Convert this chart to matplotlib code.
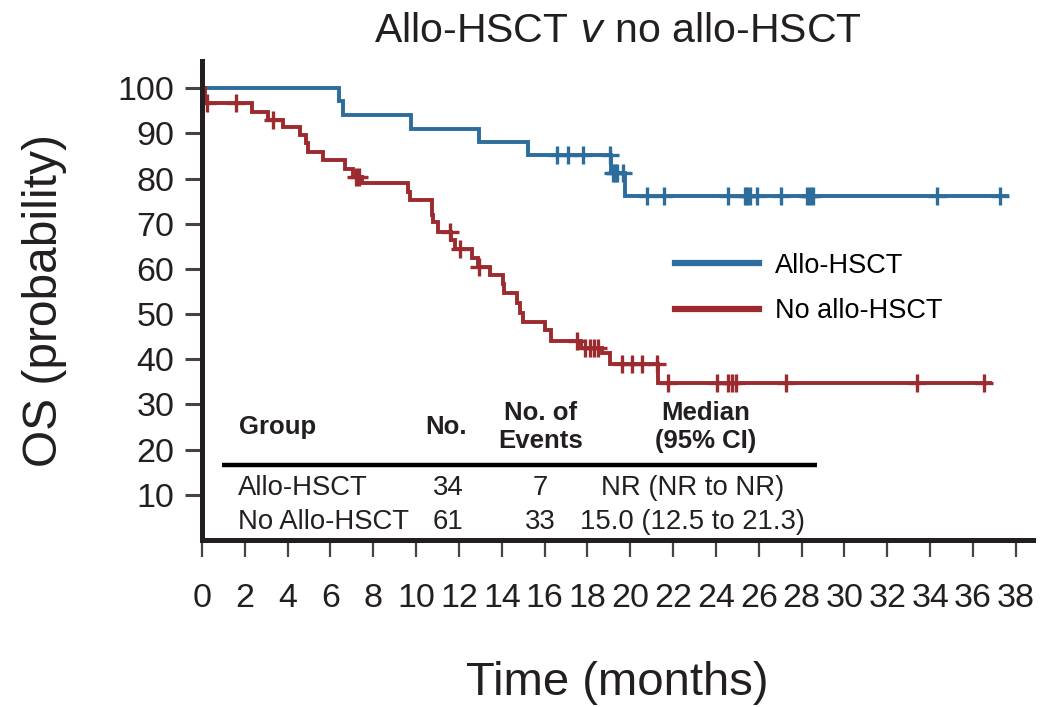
import numpy as np
import matplotlib
matplotlib.use("Agg")
import matplotlib.pyplot as plt
from matplotlib.lines import Line2D

plt.rcParams['font.family'] = ['Liberation Sans', 'DejaVu Sans']

# Kaplan-Meier steps (months, OS %)
allo_t = [0, 6.41, 6.6, 9.75, 12.93, 15.23, 19.1, 19.75, 37.6]
allo_s = [100, 97.1, 94.1, 91.0, 88.0, 85.1, 81.3, 76.1, 76.1]
allo_cens = [16.56, 17.1, 17.8, 19.05, 19.2, 19.3, 19.4, 19.67, 20.76, 21.57,
             24.57, 25.35, 25.45, 25.6, 25.93, 27.05, 28.25, 28.4, 28.54, 34.3, 37.28]

noallo_t = [0, 0.15, 2.32, 3.10, 3.80, 4.58, 4.86, 4.97, 5.67, 6.68, 7.07, 7.46,
            9.63, 9.71, 10.72, 10.76, 10.80, 11.03, 11.65, 11.81, 12.59, 12.90,
            13.44, 14.07, 14.10, 14.69, 14.85, 15.0, 16.01, 16.32, 17.72, 18.66,
            19.05, 21.30, 36.8]
noallo_s = [100, 96.7, 94.8, 92.9, 91.4, 89.6, 87.8, 85.9, 84.1, 82.2, 80.4, 78.9,
            77.1, 75.2, 73.6, 72.0, 70.4, 68.2, 66.4, 64.5, 62.3, 60.5,
            58.6, 56.6, 54.6, 52.4, 50.3, 48.3, 46.5, 44.0, 42.6, 41.3,
            39.0, 34.8, 34.8]
noallo_cens = [0.25, 1.59, 3.3, 7.2, 7.35, 11.6, 12.04, 12.95, 17.49, 17.9, 18.1,
               18.3, 18.5, 19.59, 20.06, 20.53, 21.23, 21.77, 24.03, 24.57, 24.75,
               24.93, 27.29, 33.4, 36.5]

groups = ['Allo-HSCT', 'No Allo-HSCT']
n_pts = ['34', '61']
n_events = ['7', '33']
medians = ['NR (NR to NR)', '15.0 (12.5 to 21.3)']

blue = '#2d6d9c'
red = '#9c2b2f'
ink = '#231f20'


def surv_at(t, times, surv):
    idx = np.searchsorted(times, t, side='right') - 1
    return np.asarray(surv)[idx]


fig = plt.figure(figsize=(10.4, 7.07), dpi=100)
ax = fig.add_axes([0.1942, 0.2362, 0.799, 0.6775])

for t, s, c, col in [(allo_t, allo_s, allo_cens, blue),
                     (noallo_t, noallo_s, noallo_cens, red)]:
    ax.step(t, s, where='post', color=col, lw=2.8, solid_joinstyle='miter')
    ax.plot(c, surv_at(c, t, s), ls='none', marker='+', ms=13, mew=2.4, color=col)

ax.set_xlim(0, 38.8)
ax.set_ylim(0, 106)
ax.set_xticks(np.arange(0, 39, 2))
ax.set_yticks(np.arange(10, 101, 10))

for side in ['top', 'right']:
    ax.spines[side].set_visible(False)
for side in ['left', 'bottom']:
    ax.spines[side].set_linewidth(3.6)
    ax.spines[side].set_color(ink)

ax.tick_params(axis='y', direction='out', length=12, width=2.2, color='#444444',
               labelsize=24.5, pad=8, labelcolor=ink)
ax.tick_params(axis='x', direction='out', length=12, width=1.6, color='#444444',
               labelsize=24.5, pad=19, labelcolor=ink)

ax.set_title(r'Allo-HSCT $\it{v}$ no allo-HSCT', fontsize=29.5, color=ink, pad=14)
ax.set_xlabel('Time (months)', fontsize=34, color=ink, labelpad=34)
ax.set_ylabel('OS (probability)', fontsize=34.5, color=ink, labelpad=36)

# legend
handles = [Line2D([], [], color=blue, lw=4.5), Line2D([], [], color=red, lw=4.5)]
ax.legend(handles, ['Allo-HSCT', 'No allo-HSCT'], loc='upper left',
          bbox_to_anchor=(0.569, 0.60), frameon=False, fontsize=19.5,
          handlelength=3.1, handletextpad=0.6, labelspacing=0.72,
          borderpad=0, borderaxespad=0)

# summary table
hdr = dict(fontsize=18.5, fontweight='bold', color=ink, va='center')
ax.text(1.73, 25.0, 'Group', ha='left', **hdr)
ax.text(11.4, 25.0, 'No.', ha='center', **hdr)
ax.text(15.8, 25.0, 'No. of\nEvents', ha='center', linespacing=1.2, **hdr)
ax.text(23.5, 25.0, 'Median\n(95% CI)', ha='center', linespacing=1.2, **hdr)
ax.plot([0.93, 28.7], [16.6, 16.6], color='black', lw=3.2, solid_capstyle='butt')

row_y = [11.6, 4.0]
for g, n, e, m, y in zip(groups, n_pts, n_events, medians, row_y):
    kw = dict(fontsize=19.8, color=ink, va='center')
    ax.text(1.68, y, g, ha='left', **kw)
    ax.text(11.5, y, n, ha='center', **kw)
    ax.text(15.8, y, e, ha='center', **kw)
    ax.text(22.9, y, m, ha='center', **kw)

fig.savefig('out.png', dpi=100)
